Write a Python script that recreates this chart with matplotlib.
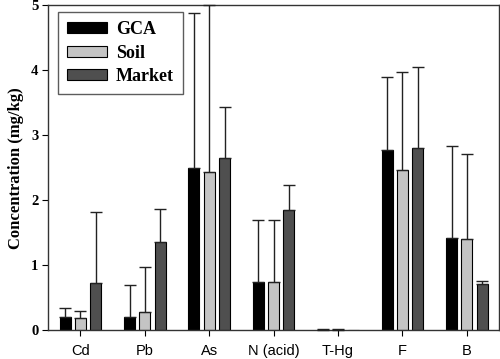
import matplotlib
matplotlib.use("Agg")
import matplotlib.pyplot as plt
import numpy as np

categories = ["Cd", "Pb", "As", "N (acid)", "T-Hg", "F", "B"]
series = ["GCA", "Soil", "Market"]
gca_mean = [0.21, 0.20, 2.50, 0.75, 0.01, 2.77, 1.42]
gca_upper = [0.34, 0.69, 4.88, 1.70, 0.025, 3.90, 2.84]
soil_mean = [0.19, 0.28, 2.43, 0.75, 0.005, 2.47, 1.40]
soil_upper = [0.30, 0.97, 5.00, 1.70, 0.025, 3.98, 2.71]
market_mean = [0.72, 1.36, 2.65, 1.85, 0.0, 2.80, 0.71]
market_upper = [1.82, 1.86, 3.44, 2.24, 0.0, 4.05, 0.76]
yticks = [0, 1, 2, 3, 4, 5]

colors = ["#000000", "#c4c4c4", "#4f4f4f"]

fig = plt.figure(figsize=(5.0, 3.59), dpi=100)
ax = fig.add_axes([0.096, 0.08, 0.902, 0.905])

x = np.arange(len(categories))
width = 0.17
offsets = [-0.235, 0.0, 0.24]
means = [gca_mean, soil_mean, market_mean]
uppers = [gca_upper, soil_upper, market_upper]

for i, name in enumerate(series):
    m = np.array(means[i])
    u = np.array(uppers[i])
    pos = x + offsets[i]
    ax.bar(pos, m, width=width, color=colors[i], edgecolor="black",
           linewidth=0.8, label=name, zorder=2)
    mask = u > 0
    err = np.vstack([np.zeros(mask.sum()), u[mask] - m[mask]])
    ax.errorbar(pos[mask], m[mask], yerr=err, fmt="none", ecolor="#222222",
                elinewidth=1.0, capsize=4, capthick=1.0, zorder=3, clip_on=False)

ax.set_xlim(-0.5, 6.5)
ax.set_ylim(0, 5)
ax.set_xticks(x)
ax.set_xticklabels(categories, family="Liberation Sans", fontsize=10.5)
ax.set_yticks(yticks)
ax.set_yticklabels([str(t) for t in yticks], family="Liberation Serif",
                   fontweight="bold", fontsize=10.5)
ax.tick_params(axis="x", direction="out", length=4, width=0.8, pad=6)
ax.tick_params(axis="y", direction="out", length=4, width=0.8, pad=3)
ax.set_ylabel("Concentration (mg/kg)", family="Liberation Serif",
              fontweight="bold", fontsize=12, labelpad=5)

for s in ax.spines.values():
    s.set_linewidth(1.0)
    s.set_color("#333333")

leg = ax.legend(loc="upper left", bbox_to_anchor=(0.022, 0.979),
                prop={"family": "Liberation Serif", "weight": "bold", "size": 13},
                frameon=True, fancybox=False, edgecolor="#333333",
                handlelength=2.2, handleheight=0.55, handletextpad=0.5,
                borderpad=0.5, labelspacing=0.35, borderaxespad=0)
leg.get_frame().set_linewidth(1.0)

fig.savefig("out.png", dpi=100)
